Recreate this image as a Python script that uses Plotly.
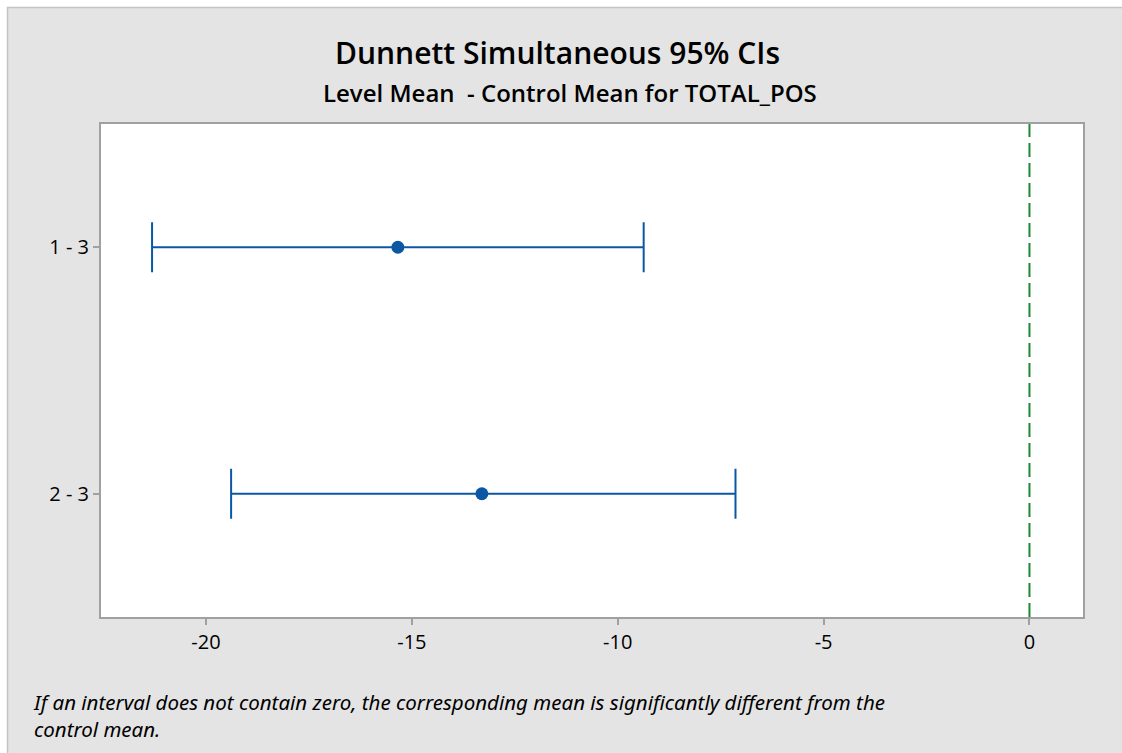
import plotly.graph_objects as go

# Data
comparisons = ["1 - 3", "2 - 3"]
lower = [-21.31, -19.39]
center = [-15.34, -13.30]
upper = [-9.37, -7.14]
tick_vals = [-20, -15, -10, -5, 0]
tick_text = ["-20", "-15", "-10", "-5", "0"]

blue = "#0B57A4"
font_main = "Open Sans"

W, H = 1122, 753
L, R, T, B = 101, 1083, 124, 617
PW, PH = R - L, B - T


def px(x):
    return (x - L) / PW


def py(y):
    return (B - y) / PH


err_plus = [u - c for u, c in zip(upper, center)]
err_minus = [c - l for c, l in zip(center, lower)]

fig = go.Figure()
fig.add_trace(go.Scatter(
    x=center, y=comparisons, mode="markers",
    marker=dict(color=blue, size=13),
    error_x=dict(type="data", symmetric=False, array=err_plus, arrayminus=err_minus,
                 color=blue, thickness=2, width=25),
    showlegend=False, hoverinfo="x+y",
))

fig.add_shape(type="line", xref="x", yref="paper", x0=0, x1=0, y0=0, y1=1,
              line=dict(color="#1A8A32", width=2, dash="14px,6px"))

# outer white margins and frame (top and left)
fig.add_shape(type="rect", xref="paper", yref="paper", x0=px(0), x1=px(W), y0=py(7), y1=py(-2),
              line=dict(width=0), fillcolor="white")
fig.add_shape(type="rect", xref="paper", yref="paper", x0=px(-2), x1=px(7), y0=py(W), y1=py(-2),
              line=dict(width=0), fillcolor="white")
fig.add_shape(type="line", xref="paper", yref="paper", x0=px(7), x1=px(W), y0=py(7.5), y1=py(7.5),
              line=dict(color="#C4C4C4", width=1.5))
fig.add_shape(type="line", xref="paper", yref="paper", x0=px(7.5), x1=px(7.5), y0=py(7), y1=py(H + 5),
              line=dict(color="#C4C4C4", width=1.5))

fig.update_layout(
    width=W, height=H,
    margin=dict(l=L, r=W - R, t=T, b=H - B),
    paper_bgcolor="#E4E4E4", plot_bgcolor="white",
    font=dict(family=font_main, color="black", size=20),
    xaxis=dict(range=[-22.55, 1.3], tickvals=tick_vals, ticktext=tick_text,
               showline=True, linecolor="#A0A0A0", linewidth=2, mirror=True,
               ticks="outside", ticklen=6, tickcolor="#A0A0A0", tickwidth=2,
               showgrid=False, zeroline=False, tickfont=dict(size=20, color="black")),
    yaxis=dict(type="category", categoryorder="array", categoryarray=comparisons,
               range=[1.5, -0.5], showline=True, linecolor="#A0A0A0", linewidth=2,
               mirror=True, ticks="outside", ticklen=6, tickcolor="#A0A0A0", tickwidth=2,
               showgrid=False, zeroline=False, tickfont=dict(size=20, color="black")),
    annotations=[
        dict(text="Dunnett Simultaneous 95% CIs", xref="paper", yref="paper",
             x=px(557), y=py(53), showarrow=False,
             font=dict(size=30, family=font_main, color="black", weight=600),
             xanchor="center", yanchor="middle"),
        dict(text="Level Mean  - Control Mean for TOTAL_POS", xref="paper", yref="paper",
             x=px(570), y=py(92), showarrow=False,
             font=dict(size=24, family=font_main, color="black", weight=600),
             xanchor="center", yanchor="middle"),
        dict(text="<i>If an interval does not contain zero, the corresponding mean is significantly different from the<br>control mean.</i>",
             xref="paper", yref="paper", x=px(31), y=py(715), showarrow=False,
             align="left", xanchor="left", yanchor="middle",
             font=dict(size=20.5, family="Noto Sans", color="black")),
    ],
)

fig.write_html("out.html", config={"displayModeBar": False},
               post_script="document.body.style.margin='0';document.body.style.padding='0';")
